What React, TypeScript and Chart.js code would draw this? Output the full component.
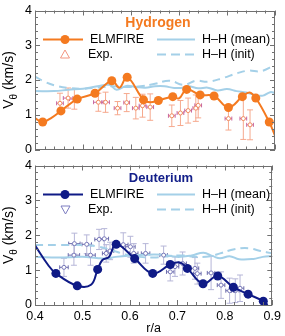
import React, { useEffect, useRef } from "react";
import { Chart, registerables } from "chart.js";
Chart.register(...registerables);

const FONT = "'Liberation Sans', Arial, Helvetica, sans-serif";
const BLUE = "#a4d0e8";

// axes
const rMin = 0.4;
const rMax = 0.9;
const vMin = 0;
const vMax = 4;

// ---------- Hydrogen ----------
const hCurveR = [0.4, 0.416, 0.435, 0.454, 0.488, 0.525, 0.56, 0.576, 0.592, 0.626, 0.64, 0.657, 0.687, 0.7, 0.716, 0.744, 0.773, 0.803, 0.832, 0.847, 0.86, 0.888, 0.9];
const hCurveV = [0.9, 0.79, 0.92, 1.11, 1.45, 1.62, 1.98, 1.78, 2.08, 1.43, 1.36, 1.41, 1.52, 1.47, 1.73, 1.57, 1.54, 1.21, 1.52, 1.64, 1.48, 0.79, 0.4];
const hMarkR = [0.416, 0.454, 0.488, 0.525, 0.56, 0.592, 0.626, 0.657, 0.687, 0.716, 0.744, 0.773, 0.803, 0.832, 0.86, 0.888];
const hMarkV = [0.79, 1.11, 1.45, 1.62, 1.98, 2.08, 1.43, 1.41, 1.52, 1.73, 1.57, 1.54, 1.21, 1.52, 1.48, 0.79];
const hMeanR = [0.4, 0.44, 0.47, 0.5, 0.53, 0.555, 0.57, 0.59, 0.61, 0.63, 0.65, 0.67, 0.69, 0.71, 0.72, 0.74, 0.76, 0.78, 0.8, 0.82, 0.84, 0.86, 0.875, 0.89, 0.9];
const hMeanV = [1.68, 1.68, 1.72, 1.75, 1.82, 1.86, 1.72, 1.83, 1.8, 1.78, 1.82, 1.82, 1.77, 1.78, 1.82, 1.76, 1.78, 1.7, 1.74, 1.68, 1.64, 1.56, 1.55, 1.65, 1.63];
const hInitR = [0.4, 0.42, 0.44, 0.47, 0.5, 0.53, 0.56, 0.59, 0.62, 0.65, 0.68, 0.71, 0.735, 0.76, 0.79, 0.82, 0.845, 0.87, 0.9];
const hInitV = [2.1, 1.95, 1.85, 1.77, 1.75, 1.78, 1.82, 1.8, 1.82, 1.89, 1.98, 1.86, 1.98, 1.95, 2.05, 2.19, 2.27, 2.25, 2.43];
const hExpR = [0.452, 0.469, 0.482, 0.532, 0.547, 0.572, 0.591, 0.61, 0.624, 0.64, 0.685, 0.703, 0.719, 0.735, 0.74, 0.803, 0.834, 0.848];
const hExpV = [1.33, 1.48, 1.45, 1.36, 1.36, 1.19, 1.35, 1.19, 1.26, 1.22, 0.97, 1.05, 1.12, 1.19, 1.27, 0.89, 0.89, 0.71];
const hExpVErr = [0.29, 0.29, 0.29, 0.26, 0.29, 0.19, 0.26, 0.31, 0.33, 0.38, 0.31, 0.36, 0.36, 0.38, 0.36, 0.33, 0.6, 0.43];
const hExpRErr = [0.007, 0.01, 0.01, 0.01, 0.008, 0.007, 0.006, 0.007, 0.007, 0.007, 0.007, 0.007, 0.007, 0.006, 0.007, 0.007, 0.007, 0.007];

// ---------- Deuterium ----------
const dCurveR = [0.4, 0.428, 0.444, 0.489, 0.518, 0.532, 0.542, 0.556, 0.571, 0.61, 0.648, 0.685, 0.705, 0.721, 0.754, 0.785, 0.818, 0.849, 0.881, 0.89];
const dCurveV = [1.71, 1.14, 0.905, 0.55, 0.58, 1.02, 1.29, 1.38, 1.74, 1.33, 0.905, 1.16, 1.22, 1.05, 0.61, 0.83, 0.51, 0.31, 0.11, 0.0];
const dMarkR = [0.444, 0.489, 0.532, 0.571, 0.61, 0.648, 0.685, 0.721, 0.754, 0.785, 0.818, 0.849, 0.881];
const dMarkV = [0.905, 0.55, 1.02, 1.74, 1.33, 0.905, 1.16, 1.05, 0.61, 0.83, 0.51, 0.31, 0.11];
const dMeanR = [0.4, 0.45, 0.5, 0.53, 0.55, 0.57, 0.6, 0.63, 0.65, 0.67, 0.7, 0.73, 0.755, 0.775, 0.79, 0.81, 0.83, 0.86, 0.88, 0.9];
const dMeanV = [1.38, 1.36, 1.38, 1.35, 1.33, 1.38, 1.42, 1.44, 1.45, 1.44, 1.38, 1.42, 1.5, 1.4, 1.34, 1.4, 1.31, 1.32, 1.38, 1.4];
const dInitR = [0.4, 0.45, 0.5, 0.53, 0.56, 0.59, 0.62, 0.65, 0.68, 0.71, 0.74, 0.77, 0.79, 0.82, 0.85, 0.875, 0.9];
const dInitV = [1.72, 1.72, 1.72, 1.68, 1.58, 1.45, 1.38, 1.36, 1.4, 1.42, 1.38, 1.4, 1.48, 1.6, 1.63, 1.55, 1.48];
const dExpR = [0.461, 0.482, 0.483, 0.509, 0.517, 0.535, 0.546, 0.55, 0.558, 0.586, 0.601, 0.608, 0.633, 0.671, 0.685, 0.695, 0.711, 0.737, 0.742, 0.771, 0.792, 0.81, 0.822, 0.832];
const dExpV = [1.08, 1.43, 1.76, 1.74, 1.43, 1.88, 1.9, 1.48, 1.55, 1.73, 1.67, 1.48, 1.48, 1.43, 0.95, 1.1, 1.19, 1.05, 0.9, 0.92, 0.57, 0.41, 0.41, 0.48];
const dExpVErr = [0.26, 0.29, 0.3, 0.27, 0.29, 0.29, 0.29, 0.25, 0.25, 0.34, 0.3, 0.28, 0.28, 0.26, 0.26, 0.28, 0.33, 0.31, 0.3, 0.48, 0.38, 0.36, 0.34, 0.38];
const dExpRErr = [0.009, 0.012, 0.012, 0.01, 0.01, 0.009, 0.009, 0.008, 0.008, 0.01, 0.01, 0.009, 0.009, 0.008, 0.008, 0.008, 0.008, 0.008, 0.008, 0.008, 0.008, 0.008, 0.008, 0.008];

type Panel = {
  title: string;
  titleColor: string;
  titleSize: number;
  titleX: number;
  simColor: string;
  expStroke: string;
  vErrColor: string;
  hErrColor: string;
  legendExp: string;
  triUp: boolean;
  curveR: number[];
  curveV: number[];
  markR: number[];
  markV: number[];
  meanR: number[];
  meanV: number[];
  initR: number[];
  initV: number[];
  expR: number[];
  expV: number[];
  expVErr: number[];
  expRErr: number[];
};

const hydrogen: Panel = {
  title: "Hydrogen",
  titleColor: "#f47a20",
  titleSize: 14,
  titleX: 158,
  simColor: "#f47a20",
  expStroke: "#ef8a5e",
  vErrColor: "#f6a98e",
  hErrColor: "#c868a0",
  legendExp: "#f29580",
  triUp: true,
  curveR: hCurveR, curveV: hCurveV, markR: hMarkR, markV: hMarkV,
  meanR: hMeanR, meanV: hMeanV, initR: hInitR, initV: hInitV,
  expR: hExpR, expV: hExpV, expVErr: hExpVErr, expRErr: hExpRErr,
};

const deuterium: Panel = {
  title: "Deuterium",
  titleColor: "#14208a",
  titleSize: 13,
  titleX: 161,
  simColor: "#0f1a86",
  expStroke: "#7878b8",
  vErrColor: "#b6b6d8",
  hErrColor: "#6c6cac",
  legendExp: "#7c7cc0",
  triUp: false,
  curveR: dCurveR, curveV: dCurveV, markR: dMarkR, markV: dMarkV,
  meanR: dMeanR, meanV: dMeanV, initR: dInitR, initV: dInitV,
  expR: dExpR, expV: dExpV, expVErr: dExpVErr, expRErr: dExpRErr,
};

const xy = (xs: number[], ys: number[]) => xs.map((x, i) => ({ x, y: ys[i] }));

function line(ctx: CanvasRenderingContext2D, x1: number, y1: number, x2: number, y2: number) {
  ctx.beginPath();
  ctx.moveTo(x1, y1);
  ctx.lineTo(x2, y2);
  ctx.stroke();
}

function buildChart(canvas: HTMLCanvasElement, p: Panel, showX: boolean) {
  const plugin = {
    id: "decor",
    beforeDatasetsDraw(chart: any) {
      const { ctx, chartArea: a, scales } = chart;
      const xs = scales.x, ys = scales.y;
      ctx.save();
      ctx.beginPath();
      ctx.rect(a.left, a.top, a.right - a.left, a.bottom - a.top);
      ctx.clip();
      ctx.lineWidth = 1;
      for (let i = 0; i < p.expR.length; i++) {
        const px = xs.getPixelForValue(p.expR[i]);
        const py = ys.getPixelForValue(p.expV[i]);
        const t = ys.getPixelForValue(p.expV[i] + p.expVErr[i]);
        const b = ys.getPixelForValue(p.expV[i] - p.expVErr[i]);
        ctx.strokeStyle = p.vErrColor;
        line(ctx, px, t, px, b);
        line(ctx, px - 3, t, px + 3, t);
        line(ctx, px - 3, b, px + 3, b);
        const l = xs.getPixelForValue(p.expR[i] - p.expRErr[i]);
        const r = xs.getPixelForValue(p.expR[i] + p.expRErr[i]);
        ctx.strokeStyle = p.hErrColor;
        line(ctx, l, py, r, py);
        line(ctx, l, py - 2, l, py + 2);
        line(ctx, r, py - 2, r, py + 2);
      }
      ctx.restore();
    },
    afterDraw(chart: any) {
      const { ctx, chartArea: a, scales } = chart;
      const xs = scales.x, ys = scales.y;
      ctx.save();
      // frame
      ctx.strokeStyle = "#707070";
      ctx.lineWidth = 1;
      ctx.strokeRect(Math.round(a.left) + 0.5, Math.round(a.top) + 0.5, Math.round(a.right - a.left) - 1, Math.round(a.bottom - a.top) - 1);
      // y ticks
      for (let k = 0; k <= 20; k++) {
        const v = vMin + k * 0.2;
        const py = Math.round(ys.getPixelForValue(v)) + 0.5;
        const len = k % 5 === 0 ? 5 : 3;
        line(ctx, a.left, py, a.left + len, py);
        line(ctx, a.right, py, a.right - len, py);
      }
      // x ticks
      for (let k = 0; k <= 25; k++) {
        const r = rMin + k * 0.02;
        const px = Math.round(xs.getPixelForValue(r)) + 0.5;
        const len = k % 5 === 0 ? 5 : 3;
        line(ctx, px, a.bottom, px, a.bottom - len);
        line(ctx, px, a.top, px, a.top + len);
      }
      // y title
      ctx.save();
      ctx.translate(13, (a.top + a.bottom) / 2);
      ctx.rotate(-Math.PI / 2);
      ctx.fillStyle = "#000";
      ctx.textBaseline = "alphabetic";
      ctx.textAlign = "left";
      const f1 = `14px ${FONT}`;
      const f2 = `10px ${FONT}`;
      ctx.font = f1;
      const wV = ctx.measureText("V").width;
      const wK = ctx.measureText(" (km/s)").width;
      ctx.font = f2;
      const wT = ctx.measureText("θ").width;
      let x0 = -(wV + wT + wK) / 2;
      ctx.font = f1;
      ctx.fillText("V", x0, 0);
      ctx.font = f2;
      ctx.fillText("θ", x0 + wV, 3.5);
      ctx.font = f1;
      ctx.fillText(" (km/s)", x0 + wV + wT, 0);
      ctx.restore();
      // legend
      const y0 = a.top;
      ctx.textBaseline = "middle";
      ctx.textAlign = "center";
      ctx.fillStyle = p.titleColor;
      ctx.font = `bold ${p.titleSize}px ${FONT}`;
      ctx.fillText(p.title, p.titleX, y0 + 13);
      const y1 = y0 + 29;
      const y2 = y0 + 44;
      ctx.lineWidth = 2;
      ctx.strokeStyle = p.simColor;
      line(ctx, 43, y1, 83, y1);
      ctx.fillStyle = p.simColor;
      ctx.beginPath();
      ctx.arc(65, y1, 4.5, 0, Math.PI * 2);
      ctx.fill();
      ctx.strokeStyle = BLUE;
      line(ctx, 157, y1, 195, y1);
      ctx.setLineDash([9, 5]);
      line(ctx, 157, y2, 195, y2);
      ctx.setLineDash([]);
      // triangle
      ctx.lineWidth = 1;
      ctx.strokeStyle = p.legendExp;
      ctx.beginPath();
      if (p.triUp) {
        ctx.moveTo(65, y2 - 4.5);
        ctx.lineTo(69.5, y2 + 3.5);
        ctx.lineTo(60.5, y2 + 3.5);
      } else {
        ctx.moveTo(65.5, y2 + 4.5);
        ctx.lineTo(70, y2 - 3.5);
        ctx.lineTo(61, y2 - 3.5);
      }
      ctx.closePath();
      ctx.stroke();
      ctx.fillStyle = "#000";
      ctx.textAlign = "left";
      ctx.font = `12.5px ${FONT}`;
      ctx.fillText("ELMFIRE", 90, y1);
      ctx.fillText("Exp.", 88, y2);
      ctx.fillText("H\u2013H (mean)", 202, y1);
      ctx.fillText("H\u2013H (init)", 202, y2);
      ctx.restore();
    },
  };

  return new Chart(canvas, {
    type: "scatter",
    data: {
      datasets: [
        {
          type: "scatter",
          data: xy(p.markR, p.markV),
          pointRadius: 4.5,
          pointBackgroundColor: p.simColor,
          pointBorderColor: p.simColor,
          pointBorderWidth: 0,
          showLine: false,
          order: 0,
        },
        {
          type: "line",
          data: xy(p.curveR, p.curveV),
          borderColor: p.simColor,
          borderWidth: 2,
          pointRadius: 0,
          tension: 0.4,
          fill: false,
          order: 1,
        },
        {
          type: "scatter",
          data: xy(p.expR, p.expV),
          pointStyle: "circle",
          pointRadius: 2,
          pointBackgroundColor: "#ffffff",
          pointBorderColor: p.expStroke,
          pointBorderWidth: 1,
          showLine: false,
          order: 2,
        },
        {
          type: "line",
          data: xy(p.meanR, p.meanV),
          borderColor: BLUE,
          borderWidth: 2,
          pointRadius: 0,
          tension: 0.4,
          fill: false,
          order: 3,
        },
        {
          type: "line",
          data: xy(p.initR, p.initV),
          borderColor: BLUE,
          borderWidth: 2,
          borderDash: [8, 5],
          pointRadius: 0,
          tension: 0.4,
          fill: false,
          order: 4,
        },
      ],
    } as any,
    options: {
      animation: false,
      responsive: false,
      events: [],
      layout: { padding: { top: 10, bottom: showX ? 0 : 10, left: 0, right: 10 } },
      plugins: { legend: { display: false }, tooltip: { enabled: false } },
      scales: {
        x: {
          type: "linear",
          min: rMin,
          max: rMax,
          display: showX,
          grid: { display: false, drawTicks: false },
          border: { display: false },
          ticks: {
            stepSize: 0.1,
            padding: 4,
            color: "#000",
            font: { family: FONT, size: 12.5 },
            maxRotation: 0,
            callback: (v: any) => Number(v).toFixed(1),
          },
          title: {
            display: true,
            text: "r/a",
            color: "#000",
            font: { family: FONT, size: 12.5 },
            padding: { top: 0, bottom: 0 },
          },
          afterFit: (s: any) => {
            s.height = showX ? 31 : 0;
          },
        },
        y: {
          type: "linear",
          min: vMin,
          max: vMax,
          grid: { display: false, drawTicks: false },
          border: { display: false },
          ticks: {
            stepSize: 1,
            padding: 3,
            color: "#000",
            font: { family: FONT, size: 12.5 },
          },
          afterFit: (s: any) => {
            s.width = 35;
          },
        },
      },
    } as any,
    plugins: [plugin],
  });
}

export default function App() {
  const topRef = useRef<HTMLCanvasElement>(null);
  const botRef = useRef<HTMLCanvasElement>(null);
  useEffect(() => {
    const c1 = buildChart(topRef.current!, hydrogen, false);
    const c2 = buildChart(botRef.current!, deuterium, true);
    return () => {
      c1.destroy();
      c2.destroy();
    };
  }, []);
  return (
    <div style={{ position: "absolute", left: 0, top: 0, width: 285, height: 336, background: "#fff" }}>
      <canvas ref={topRef} width={285} height={160} style={{ position: "absolute", left: 0, top: 0, width: 285, height: 160 }} />
      <canvas ref={botRef} width={285} height={181} style={{ position: "absolute", left: 0, top: 155, width: 285, height: 181 }} />
    </div>
  );
}
